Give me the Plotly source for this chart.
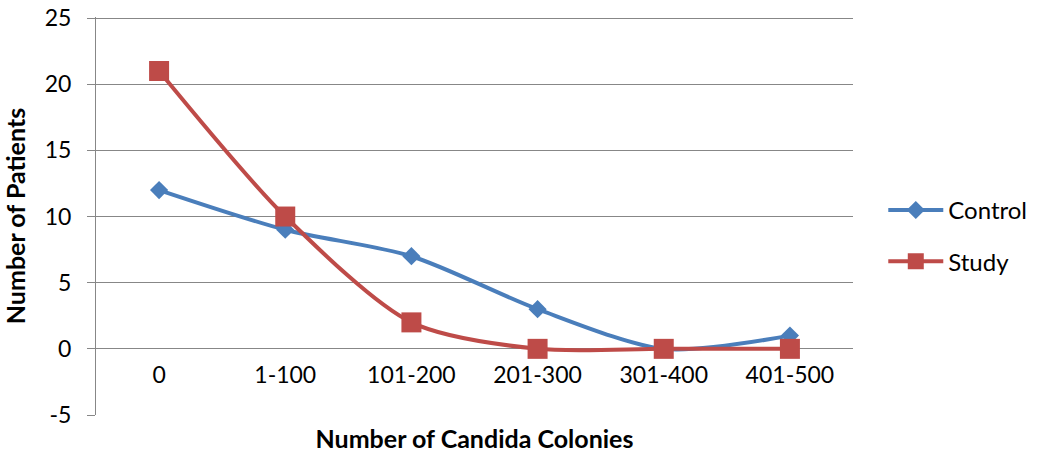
import plotly.graph_objects as go

categories = ["0", "1-100", "101-200", "201-300", "301-400", "401-500"]
control = [12, 9, 7, 3, 0, 1]
study = [21, 10, 2, 0, 0, 0]
y_ticks = [-5, 0, 5, 10, 15, 20, 25]
y_tick_text = ["-5", "0", "5", "10", "15", "20", "25"]

FONT = "Lato"
GRID = "#878787"

fig = go.Figure()
fig.add_trace(go.Scatter(
    x=categories, y=control, name="Control", mode="lines+markers", legendgroup="c",
    line=dict(color="#4A7EBB", width=4, shape="spline", smoothing=0.8),
    marker=dict(symbol="diamond", size=14, color="#4A7EBB"),
))
fig.add_trace(go.Scatter(
    x=categories, y=study, name="Study", mode="lines+markers", legendgroup="s",
    line=dict(color="#BE4B48", width=4, shape="spline", smoothing=0.8),
    marker=dict(symbol="square", size=20, color="#BE4B48"),
))

fig.update_layout(
    width=1044, height=455, autosize=False,
    margin=dict(l=96, r=184, t=17, b=40),
    plot_bgcolor="white", paper_bgcolor="white",
    font=dict(family=FONT, size=23, color="black"),
    showlegend=True,
    legend=dict(x=1.04, y=0.45, xanchor="left", yanchor="middle",
                font=dict(size=24), itemwidth=55, tracegroupgap=17,
                traceorder="grouped", bgcolor="rgba(0,0,0,0)"),
    xaxis=dict(
        type="category", range=[-0.5, 5.5], showgrid=False, showline=False,
        zeroline=False, ticks="", anchor="free", position=1/6, automargin=False,
        ticklabelstandoff=10, tickfont=dict(size=23),
        title=dict(text="<b>Number of Candida Colonies</b>", font=dict(size=25), standoff=43),
    ),
    yaxis=dict(
        range=[-5, 25.08], tickvals=y_ticks, ticktext=y_tick_text, showgrid=True,
        gridcolor=GRID, gridwidth=1, automargin=False, ticklabeloverflow="allow",
        zeroline=False, showline=True, linecolor=GRID, linewidth=1,
        ticks="outside", ticklen=8, tickcolor=GRID, ticklabelstandoff=11,
        tickfont=dict(size=23),
        title=dict(text="<b>Number of Patients</b>", font=dict(size=25), standoff=24),
    ),
)

fig.write_html(
    "out.html",
    config={"responsive": False, "displayModeBar": False},
    post_script="document.body.style.margin='0';",
)
